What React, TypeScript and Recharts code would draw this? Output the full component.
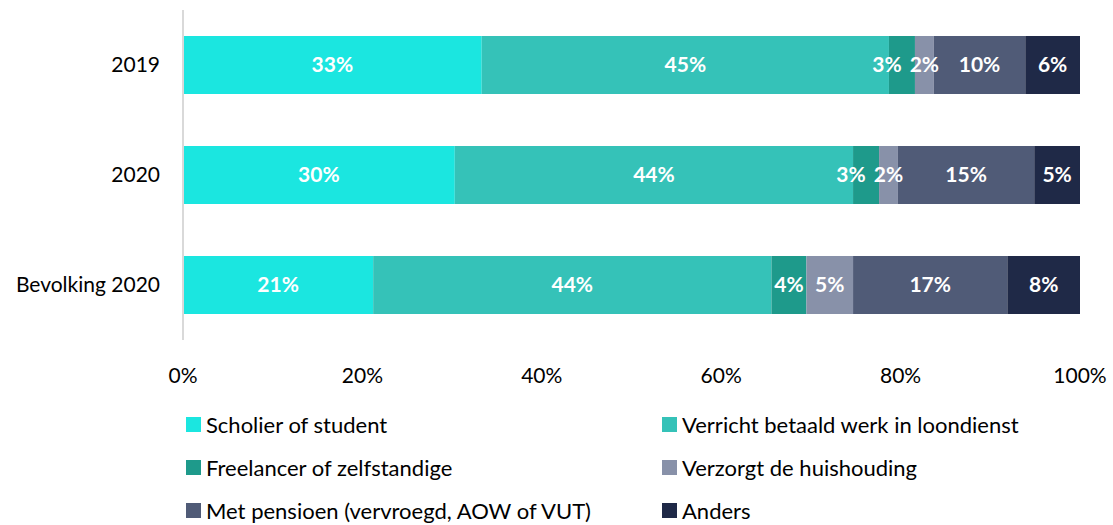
import { Bar, BarChart, LabelList, Legend, XAxis, YAxis } from "recharts";

const categories = ["2019", "2020", "Bevolking 2020"];

const scholier = [33.3, 30.3, 21.2];
const loondienst = [45.4, 44.4, 44.4];
const freelancer = [2.9, 2.9, 3.9];
const huishouding = [2.1, 2.1, 5.2];
const pensioen = [10.2, 15.2, 17.2];
const anders = [6.1, 5.1, 8.1];

const xTicks = [0, 20, 40, 60, 80, 100];

const series = [
  { key: "scholier", name: "Scholier of student", values: scholier, color: "#1be6e0" },
  { key: "loondienst", name: "Verricht betaald werk in loondienst", values: loondienst, color: "#35c2b8" },
  { key: "freelancer", name: "Freelancer of zelfstandige", values: freelancer, color: "#1e9a8b" },
  { key: "huishouding", name: "Verzorgt de huishouding", values: huishouding, color: "#8891a9" },
  { key: "pensioen", name: "Met pensioen (vervroegd, AOW of VUT)", values: pensioen, color: "#505b77" },
  { key: "anders", name: "Anders", values: anders, color: "#1f2947" },
];

const chartData = categories.map((name, i) => {
  const row: Record<string, string | number> = { name };
  series.forEach((s) => {
    row[s.key] = s.values[i];
  });
  return row;
});

const font = "Lato, 'Open Sans', sans-serif";

// narrow segments next to another narrow one get nudged left, like the original
function SegmentLabel(props: any) {
  const { x, y, width, height, value, nudge } = props;
  const dx = nudge && width < 30 ? -15 : 0;
  return (
    <text
      x={x + width / 2 + dx}
      y={y + height / 2}
      dy="0.355em"
      textAnchor="middle"
      fill="#fff"
      style={{ fontSize: 21, fontWeight: 700, fontFamily: font }}
    >
      {`${Math.round(value)}%`}
    </text>
  );
}

function LegendBox() {
  return (
    <div
      style={{
        display: "grid",
        gridTemplateColumns: "476px 1fr",
        gridAutoRows: "43px",
        paddingLeft: 186,
        fontFamily: font,
        fontSize: 22,
        color: "#000",
      }}
    >
      {series.map((s) => (
        <div key={s.key} style={{ display: "flex", alignItems: "center" }}>
          <span
            style={{
              display: "inline-block",
              width: 15,
              height: 15,
              background: s.color,
              marginRight: 5,
            }}
          />
          <span>{s.name}</span>
        </div>
      ))}
    </div>
  );
}

export default function App() {
  return (
    <div style={{ position: "absolute", left: 0, top: 0, width: 1113, height: 525, background: "#fff" }}>
      <BarChart
        width={1113}
        height={525}
        data={chartData}
        layout="vertical"
        margin={{ top: 10, right: 33, bottom: 0, left: 0 }}
      >
        <XAxis
          type="number"
          domain={[0, 100]}
          ticks={xTicks}
          tickFormatter={(v) => `${v}%`}
          axisLine={false}
          tickLine={false}
          tickSize={0}
          tickMargin={28}
          height={63}
          tick={{ fill: "#000", fontSize: 21, fontFamily: font }}
        />
        <YAxis
          type="category"
          dataKey="name"
          width={183}
          axisLine={{ stroke: "#d9d9d9", strokeWidth: 2 }}
          tickLine={false}
          tickSize={0}
          tickMargin={23}
          tick={{ fill: "#000", fontSize: 21, fontFamily: font }}
        />
        <Legend verticalAlign="bottom" height={122} wrapperStyle={{ left: 0, width: 1113 }} content={() => <LegendBox />} />
        {series.map((s) => (
          <Bar key={s.key} dataKey={s.key} name={s.name} stackId="a" fill={s.color} barSize={58} isAnimationActive={false}>
            <LabelList
              dataKey={s.key}
              content={(p: any) => <SegmentLabel {...p} nudge={s.key === "freelancer"} />}
            />
          </Bar>
        ))}
      </BarChart>
    </div>
  );
}
